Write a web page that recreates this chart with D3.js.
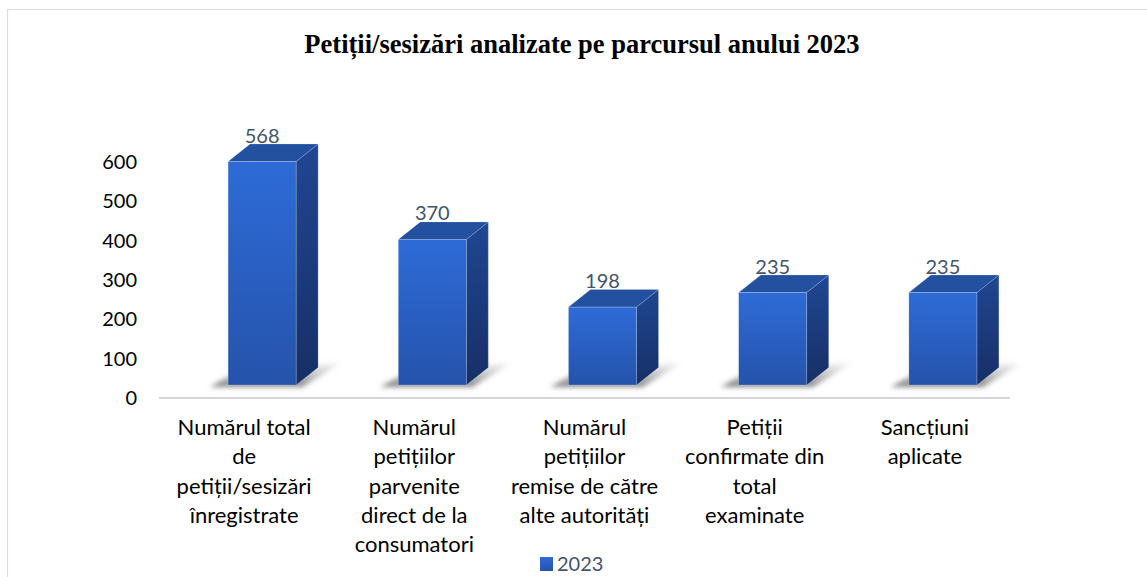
<!DOCTYPE html>
<html>
<head>
<meta charset="utf-8">
<script src="https://cdn.jsdelivr.net/npm/d3@7/dist/d3.min.js"></script>
<style>
  html, body { margin: 0; padding: 0; background: #fff; }
  svg { display: block; }
</style>
</head>
<body>
<svg id="chart" width="1147" height="577"></svg>
<script>
// Petiții / sesizări, 2023
const categories = [
  ["Numărul total", "de", "petiții/sesizări", "înregistrate"],
  ["Numărul", "petițiilor", "parvenite", "direct de la", "consumatori"],
  ["Numărul", "petițiilor", "remise de către", "alte autorități"],
  ["Petiții", "confirmate din", "total", "examinate"],
  ["Sancțiuni", "aplicate"]
];
const values = [568, 370, 198, 235, 235];
const tickValues = [0, 100, 200, 300, 400, 500, 600];
const seriesName = "2023";
const title = "Petiții/sesizări analizate pe parcursul anului 2023";

const svg = d3.select("#chart");
const W = 1147, H = 577;
const font = "Lato, 'Open Sans', sans-serif";

const x = d3.scaleBand().domain(d3.range(categories.length)).range([159, 1010]).padding(0);
const y = d3.scaleLinear().domain([0, 600]).range([398, 162]);

// 3D geometry of the columns
const lift = 13;          // front face sits this far above the axis line
const depthX = 22, depthY = 17.5;
const barW = 68, barShift = 18;

const defs = svg.append("defs");
const gFront = defs.append("linearGradient").attr("id", "gFront").attr("x1", 0).attr("y1", 0).attr("x2", 0).attr("y2", 1);
gFront.append("stop").attr("offset", "0%").attr("stop-color", "#2e6bd7");
gFront.append("stop").attr("offset", "100%").attr("stop-color", "#2553ab");
const gSide = defs.append("linearGradient").attr("id", "gSide").attr("x1", 0).attr("y1", 0).attr("x2", 0).attr("y2", 1);
gSide.append("stop").attr("offset", "0%").attr("stop-color", "#1f4792");
gSide.append("stop").attr("offset", "100%").attr("stop-color", "#172f66");
const gLegend = defs.append("linearGradient").attr("id", "gLegend").attr("x1", 0).attr("y1", 0).attr("x2", 0).attr("y2", 1);
gLegend.append("stop").attr("offset", "0%").attr("stop-color", "#2e6bd7");
gLegend.append("stop").attr("offset", "100%").attr("stop-color", "#2553ab");
const shadowGrad = defs.append("linearGradient").attr("id", "gShadow").attr("x1", 0).attr("y1", 1).attr("x2", 0).attr("y2", 0);
shadowGrad.append("stop").attr("offset", "0%").attr("stop-color", "#555").attr("stop-opacity", 0.75);
shadowGrad.append("stop").attr("offset", "100%").attr("stop-color", "#888").attr("stop-opacity", 0.1);
defs.append("filter").attr("id", "blur").attr("x", "-30%").attr("y", "-50%").attr("width", "160%").attr("height", "200%")
  .append("feGaussianBlur").attr("stdDeviation", 2.5);

// chart frame
svg.append("rect").attr("x", 7.5).attr("y", 9.5).attr("width", W + 20).attr("height", H + 20)
  .attr("fill", "none").attr("stroke", "#d9dde3").attr("stroke-width", 1.2);

// title
svg.append("text").attr("x", 582).attr("y", 53).attr("text-anchor", "middle")
  .attr("font-family", "'Liberation Serif', 'Times New Roman', serif").attr("font-weight", "bold")
  .attr("font-size", 26.5).attr("fill", "#000").text(title);

// value axis labels
const yAxis = svg.append("g").attr("transform", "translate(137,0)")
  .call(d3.axisLeft(y).tickValues(tickValues).tickSize(0).tickPadding(0).tickFormat(d3.format("d")));
yAxis.select(".domain").remove();
yAxis.selectAll("text").attr("font-family", font).attr("font-size", 20).attr("fill", "#000");

// category axis line
svg.append("line").attr("x1", 159).attr("x2", 1010).attr("y1", y(0)).attr("y2", y(0))
  .attr("stroke", "#d3d5d9").attr("stroke-width", 2);

const bars = svg.append("g").selectAll("g").data(values).join("g");

bars.each(function (v, i) {
  const g = d3.select(this);
  const x0 = x(i) + x.bandwidth() / 2 - barW / 2 + barShift;
  const x1 = x0 + barW;
  const yb = y(0) - lift;
  const yt = y(v) - lift;

  // floor shadow
  g.append("polygon")
    .attr("points", [[x0 - 18, yb + 2], [x1 + 6, yb + 2], [x1 + depthX + 22, yb - depthY - 4], [x0 + depthX, yb - depthY - 4]].map(p => p.join(",")).join(" "))
    .attr("fill", "url(#gShadow)").attr("filter", "url(#blur)");

  // side face
  g.append("polygon")
    .attr("points", [[x1, yt], [x1 + depthX, yt - depthY], [x1 + depthX, yb - depthY], [x1, yb]].map(p => p.join(",")).join(" "))
    .attr("fill", "url(#gSide)").attr("stroke", "rgba(200,215,240,0.35)").attr("stroke-width", 0.6);
  // top face
  g.append("polygon")
    .attr("points", [[x0, yt], [x0 + depthX, yt - depthY], [x1 + depthX, yt - depthY], [x1, yt]].map(p => p.join(",")).join(" "))
    .attr("fill", "#2450a0").attr("stroke", "rgba(200,215,240,0.35)").attr("stroke-width", 0.6);
  // front face
  g.append("rect").attr("x", x0).attr("y", yt).attr("width", barW).attr("height", yb - yt)
    .attr("fill", "url(#gFront)").attr("stroke", "rgba(200,215,240,0.45)").attr("stroke-width", 0.6);

  // value label
  g.append("text").attr("x", x0 + barW / 2).attr("y", yt - depthY - 1.5).attr("text-anchor", "middle")
    .attr("font-family", font).attr("font-size", 20).attr("fill", "#44546a").text(v);
});

// category labels
const catG = svg.append("g").selectAll("text").data(categories).join("text")
  .attr("text-anchor", "middle").attr("font-family", font).attr("font-size", 22).attr("fill", "#000")
  .attr("x", (d, i) => x(i) + x.bandwidth() / 2).attr("y", 435);
catG.selectAll("tspan").data(d => d).join("tspan")
  .attr("x", function () { return d3.select(this.parentNode).attr("x"); })
  .attr("dy", (d, j) => j === 0 ? 0 : 29.3).text(d => d);

// legend
svg.append("rect").attr("x", 540).attr("y", 557).attr("width", 13).attr("height", 14).attr("fill", "url(#gLegend)");
svg.append("text").attr("x", 557).attr("y", 571).attr("font-family", font).attr("font-size", 20)
  .attr("fill", "#44546a").text(seriesName);
</script>
</body>
</html>
